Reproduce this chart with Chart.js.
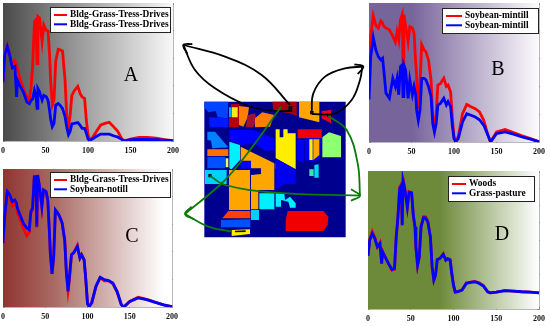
<!DOCTYPE html>
<html>
<head>
<meta charset="utf-8">
<style>
html, body { margin: 0; padding: 0; background: #fff; }
body { width: 550px; height: 326px; position: relative; overflow: hidden; }
canvas { position: absolute; }
</style>
</head>
<body>
<canvas id="panelA" width="185" height="160" style="left:0;top:0"></canvas>
<canvas id="panelB" width="185" height="160" style="left:365px;top:0"></canvas>
<canvas id="panelC" width="185" height="160" style="left:0;top:163px"></canvas>
<canvas id="panelD" width="185" height="160" style="left:365px;top:163px"></canvas>
<canvas id="mapChart" width="200" height="215" style="left:175px;top:30px"></canvas>
<script src="https://cdn.jsdelivr.net/npm/chart.js@4"></script>
<script>
const bands = [0,2,5,8,11,14,16,17,20,24,28,31,33,35,37,39,40,41,43,46,48,51,53,55,56,58,60,62,65,67,70,73,75,77,79,81,84,88,91,93,96,98,100,102,105,110,115,120,125,130,135,140,143,150,160,170,180,190,200];

const aRed = [2130,3080,3440,3140,2730,2900,2750,2600,2250,1890,1600,1480,1950,2800,4330,4400,2800,4510,4450,3600,4200,4000,3980,3000,2200,1300,1480,2900,3320,3300,3260,2200,880,500,940,1650,1830,1980,1700,1600,1540,760,230,50,110,350,580,640,680,520,350,70,10,70,130,130,100,50,10];
const aBlue = [2130,3100,3420,3100,2650,2700,1600,2200,2000,1770,1420,1350,1470,1530,1830,1600,1180,1900,1780,1480,1650,1600,1470,1060,800,520,640,1300,1360,1300,1180,880,500,230,350,620,640,670,560,460,460,290,70,20,70,170,250,250,250,190,140,50,0,50,60,55,50,30,10];
const bRed = [2650,3800,4540,4200,4100,4350,4280,4180,4100,4040,3800,3600,3970,3670,4400,4580,2830,4580,4200,3600,4150,4100,3900,2830,2340,1200,2100,3500,3300,3240,2950,2230,900,480,1020,2050,2100,2290,2000,2050,1800,900,180,60,180,1020,1350,1270,1200,1080,780,240,0,360,450,340,220,120,10];
const bBlue = [1530,3070,3760,3310,3070,2950,3010,2710,1750,1570,2290,2000,2290,1700,2710,2770,1630,2770,2600,1570,2230,1700,2000,1690,1150,780,1150,2290,2290,2230,2000,1630,660,360,660,1330,1390,1570,1330,1450,1270,600,120,10,120,720,1020,960,900,800,600,240,0,300,360,280,180,100,10];
const cRed = [2310,3200,4160,4000,3660,3760,3620,3420,3180,2860,2580,2700,3400,3520,4700,4700,2880,4780,4380,3600,4240,4180,3860,2670,1950,1200,1830,3520,3400,3280,3040,2430,1300,600,1120,1890,1980,2230,1770,1900,1710,990,120,20,150,750,1060,950,950,840,540,80,0,200,350,280,180,80,10];
const cBlue = [2310,3280,4180,4060,3820,3880,3760,3580,3340,3040,2860,2800,3460,3580,4720,4720,2920,4780,4420,3640,4240,4180,3880,2670,1950,1200,1830,3520,3400,3280,3040,2430,1230,570,1230,1890,1980,2190,1770,1890,1710,990,120,20,150,750,1080,990,960,870,570,80,0,200,330,270,170,80,10];
const dRed = [3080,4050,4500,4150,3600,3850,2650,3350,3020,2630,2250,2300,4170,5330,7050,7250,4850,7600,7000,5900,6800,6750,5420,4750,3600,2540,3020,4800,5350,5350,5100,4170,2440,1680,1960,2870,2920,3200,2830,2920,2860,2060,1380,980,1000,1120,1520,1560,1600,1520,1360,1000,940,980,1060,1040,1000,980,940];
const dBlue = [3080,3980,4370,4080,3600,3790,2630,3310,3020,2630,2290,2350,4170,5330,6960,7150,4850,7440,6960,5900,6770,6730,5420,4750,3600,2540,3020,4750,5290,5290,5040,4170,2440,1670,1960,2870,2920,3170,2830,2920,2860,2060,1380,980,1000,1100,1480,1540,1580,1480,1330,1000,940,980,1060,1040,1000,980,940];

const xTicks = ['0', '50', '100', '150', '200'];

const legendA = ['Bldg-Grass-Tress-Drives', 'Bldg-Grass-Tress-Drives'];
const legendB = ['Soybean-mintill', 'Soybean-mintill'];
const legendC = ['Bldg-Grass-Tress-Drives', 'Soybean-notill'];
const legendD = ['Woods', 'Grass-pasture'];

// scene regions (flat x,y lists)
const regionShapes = [
    [88,215,512,215,512,622,88,622],
    [88,215,160,215,158,265,128,262,122,243,100,247,88,232],
    [103,262,160,265,160,292,103,292],
    [162,232,168,232,168,262,162,262],
    [168,222,192,222,192,292,162,292,162,262,168,262],
    [170,232,188,232,188,262,170,262],
    [192,228,222,232,218,262,205,290,192,285],
    [218,255,240,250,245,270,235,292,212,292],
    [240,265,262,247,297,255,285,290,240,292],
    [292,215,365,215,365,258,345,250,295,243],
    [372,215,433,215,433,277,372,262],
    [440,243,468,240,468,280,440,265],
    [97,305,120,305,160,352,112,355,108,332,97,330],
    [163,300,235,300,298,325,298,362,270,362,238,340,200,345,163,330],
    [163,335,195,345,195,390,170,418,163,415],
    [97,358,160,358,160,378,97,378],
    [97,380,150,380,150,415,97,415],
    [152,385,160,385,160,412,152,412],
    [90,420,155,420,155,462,90,462],
    [197,350,298,400,298,480,230,480,228,435,258,432,258,415,230,415,197,392],
    [197,392,228,392,228,415,197,418],
    [162,420,225,420,225,540,162,540],
    [228,435,250,435,250,538,228,538],
    [253,490,298,490,298,538,253,538],
    [302,298,314,298,314,322,325,322,325,298,338,298,338,310,362,310,362,418,302,385],
    [302,400,320,400,320,417,302,417],
    [302,385,362,418,362,462,330,462,302,478],
    [302,490,328,490,330,510,345,500,362,520,362,533,345,533,340,515,318,510,318,530,302,530],
    [368,298,440,298,440,325,368,325],
    [365,330,388,330,388,400,365,390],
    [390,325,440,325,435,385,415,395,390,390],
    [403,328,413,328,413,390,403,390],
    [415,328,433,328,433,375,415,390],
    [442,322,462,307,498,318,498,382,442,382],
    [418,405,431,403,431,443,418,443],
    [403,418,416,418,416,438,403,438],
    [338,543,445,543,460,560,458,585,445,603,332,603,332,570],
    [160,543,226,543,226,565,142,565],
    [228,540,252,540,252,570,228,570],
    [138,570,226,568,226,592,138,592],
    [170,600,225,598,225,612,170,618],
    [180,602,212,601,212,606,180,607]
];
const regionColors = ['#00008f','#0044ff','#0018ff','#00a8ff','#b00010','#ffe818','#ff8000','#a01030','#ff8000','#a80010','#ffa500','#e80020','#0080ff','#0000ff','#00f0ff','#ff7000','#0050ff','#e8ff60','#00d0ff','#ffa500','#0000ff','#ffa500','#ffa500','#00f0ff','#ffee00','#ffa500','#0000f0','#00f0ff','#e80010','#0000f0','#0000f0','#ffee00','#ffa500','#90ff70','#00d8f0','#40e0b0','#f00000','#ff4000','#00d0ff','#0050ff','#ffee00','#101000'];

const arrowPaths = [
    [345,225,260,135,150,80,25,45],
    [345,243,290,242,220,228,120,175,60,120,25,45],
    [410,245,415,190,450,140,510,115,565,110],
    [410,252,480,250,530,210,555,150,562,110],
    [52,42,25,45,37,72],
    [538,103,565,110,548,132],
    [318,230,240,340,150,450,30,552],
    [170,605,100,590,30,552],
    [105,437,150,465,300,488,555,497],
    [460,258,515,300,548,400,555,497],
    [50,530,30,552,57,568],
    [528,478,555,497,528,512]
];
const arrowColors = ['#000','#000','#000','#000','#000','#000','#0b7a0b','#0b7a0b','#0b7a0b','#0b7a0b','#0b7a0b','#0b7a0b'];
const arrowAnchors = [[340,228,352,246],[405,243,416,253],[456,254,466,262],[100,432,110,442]];

function pairs(flat) {
    const out = [];
    for (let i = 0; i < flat.length; i += 2) out.push({ x: flat[i], y: flat[i + 1] });
    return out;
}

// gradient, legend box and big letter for one panel
const panelDecor = {
    id: 'panelDecor',
    beforeDatasetsDraw(chart, args, opts) {
        const { ctx, chartArea: a } = chart;
        const g = ctx.createLinearGradient(a.left, 0, a.right, 0);
        opts.stops.forEach(s => g.addColorStop(s[0], s[1]));
        ctx.save();
        ctx.fillStyle = g;
        ctx.fillRect(a.left, a.top, a.width, a.height);
        ctx.restore();
    },
    afterDatasetsDraw(chart, args, opts) {
        const { ctx } = chart;
        const b = opts.box;
        ctx.save();
        ctx.fillStyle = '#fff';
        ctx.strokeStyle = '#222';
        ctx.lineWidth = 1;
        ctx.fillRect(b[0], b[1], b[2], b[3]);
        ctx.strokeRect(b[0] + 0.5, b[1] + 0.5, b[2], b[3]);
        ctx.font = 'bold 9.4px "Liberation Serif"';
        ctx.textBaseline = 'middle';
        chart.data.datasets.forEach((ds, i) => {
            const y = b[1] + 8 + i * 9.3;
            ctx.strokeStyle = ds.borderColor;
            ctx.lineWidth = 2;
            ctx.beginPath();
            ctx.moveTo(b[0] + 4, y);
            ctx.lineTo(b[0] + opts.swatch, y);
            ctx.stroke();
            ctx.fillStyle = '#000';
            ctx.fillText(ds.label, b[0] + opts.swatch + 3, y);
        });
        ctx.font = '20px "Liberation Serif"';
        ctx.textAlign = 'center';
        ctx.fillStyle = '#000';
        ctx.fillText(opts.letter, opts.letterAt[0], opts.letterAt[1]);
        ctx.restore();
    }
};

function makePanel(id, labels, red, blue, yMax, decor, pad) {
    const flat = { afterFit: s => { s.width = 0; } };
    const edge = { color: '#666', drawOnChartArea: false, tickLength: -2 };
    const axis = { grid: edge, border: { color: '#999', width: 0.7 } };
    new Chart(document.getElementById(id).getContext('2d'), {
        type: 'line',
        data: {
            datasets: [
                { label: labels[0], data: bands.map((b, i) => ({ x: b, y: red[i] })), borderColor: '#ff0000', borderWidth: 2.8, pointRadius: 0, order: 1 },
                { label: labels[1], data: bands.map((b, i) => ({ x: b, y: blue[i] })), borderColor: '#0000ff', borderWidth: 2.8, pointRadius: 0, order: 0 }
            ]
        },
        options: {
            responsive: false,
            animation: false,
            layout: { padding: pad },
            plugins: { legend: { display: false }, tooltip: { enabled: false }, panelDecor: decor },
            scales: {
                x: {
                    type: 'linear', min: 0, max: 200,
                    // the first and last tick label must not push the plot area inwards
                    afterFit: s => { s.height = 14; s.paddingLeft = 0; s.paddingRight = 0; },
                    afterBuildTicks: s => { s.ticks = xTicks.map(t => ({ value: Number(t) })); },
                    ticks: { color: '#111', font: { family: 'Liberation Serif', size: 8, weight: 'bold' }, padding: 7, maxRotation: 0 },
                    ...axis
                },
                x2: { type: 'linear', axis: 'x', position: 'top', min: 0, max: 200, afterFit: s => { s.height = 0; s.paddingLeft = 0; s.paddingRight = 0; }, ticks: { display: false, stepSize: 50 }, ...axis },
                y: { min: 0, max: yMax, ticks: { display: false, stepSize: 1000 }, ...flat, ...axis },
                y2: { position: 'right', min: 0, max: yMax, ticks: { display: false, stepSize: 1000 }, ...flat, ...axis }
            }
        },
        plugins: [panelDecor]
    });
}

makePanel('panelA', legendA, aRed, aBlue, 5000, {
    stops: [[0, '#4a4a4a'], [0.35, '#8a8a8a'], [1, '#f8f8f8']],
    box: [50, 7, 120, 25], swatch: 17, letter: 'A', letterAt: [131, 76]
}, { left: 3, right: 12, top: 3, bottom: 5 });

makePanel('panelB', legendB, bRed, bBlue, 5000, {
    stops: [[0, '#77649a'], [0.25, '#77649a'], [1, '#fdfbfd']],
    box: [77, 8, 96, 25], swatch: 20, letter: 'B', letterAt: [133, 70]
}, { left: 4, right: 11, top: 3, bottom: 4 });

makePanel('panelC', legendC, cRed, cBlue, 5000, {
    stops: [[0, '#8f3530'], [0.3, '#a96a63'], [0.95, '#ffffff'], [1, '#ffffff']],
    box: [50, 9, 120, 25], swatch: 17, letter: 'C', letterAt: [132, 74]
}, { left: 3, right: 13, top: 6, bottom: 2 });

makePanel('panelD', legendD, dRed, dBlue, 8000, {
    stops: [[0, '#6d8a3a'], [0.42, '#6d8a3a'], [1, '#ffffff']],
    box: [83, 13, 86, 25], swatch: 18, letter: 'D', letterAt: [137, 72]
}, { left: 3, right: 11, top: 8, bottom: 0 });

const mapSets = regionShapes.map((shape, i) => ({
    data: pairs(shape), showLine: true, fill: 'shape', backgroundColor: regionColors[i],
    borderWidth: 0, pointRadius: 0, order: 1000 - i
}));
const anchorSets = arrowAnchors.map((r, i) => ({
    data: pairs([r[0],r[1],r[2],r[1],r[2],r[3],r[0],r[3]]), showLine: true, fill: 'shape', backgroundColor: '#101010',
    borderWidth: 0, pointRadius: 0, order: 200 - i
}));
const arrowSets = arrowPaths.map((path, i) => ({
    data: pairs(path), showLine: true, borderColor: arrowColors[i], borderWidth: 1.8,
    tension: 0.4, pointRadius: 0, order: 100 - i, fill: false
}));

new Chart(document.getElementById('mapChart').getContext('2d'), {
    type: 'scatter',
    data: { datasets: [...mapSets, ...anchorSets, ...arrowSets] },
    options: {
        responsive: false,
        animation: false,
        plugins: { legend: { display: false }, tooltip: { enabled: false } },
        scales: {
            x: { type: 'linear', display: false, min: 0, max: 600 },
            y: { type: 'linear', display: false, min: 0, max: 645, reverse: true }
        }
    }
});
</script>
</body>
</html>
